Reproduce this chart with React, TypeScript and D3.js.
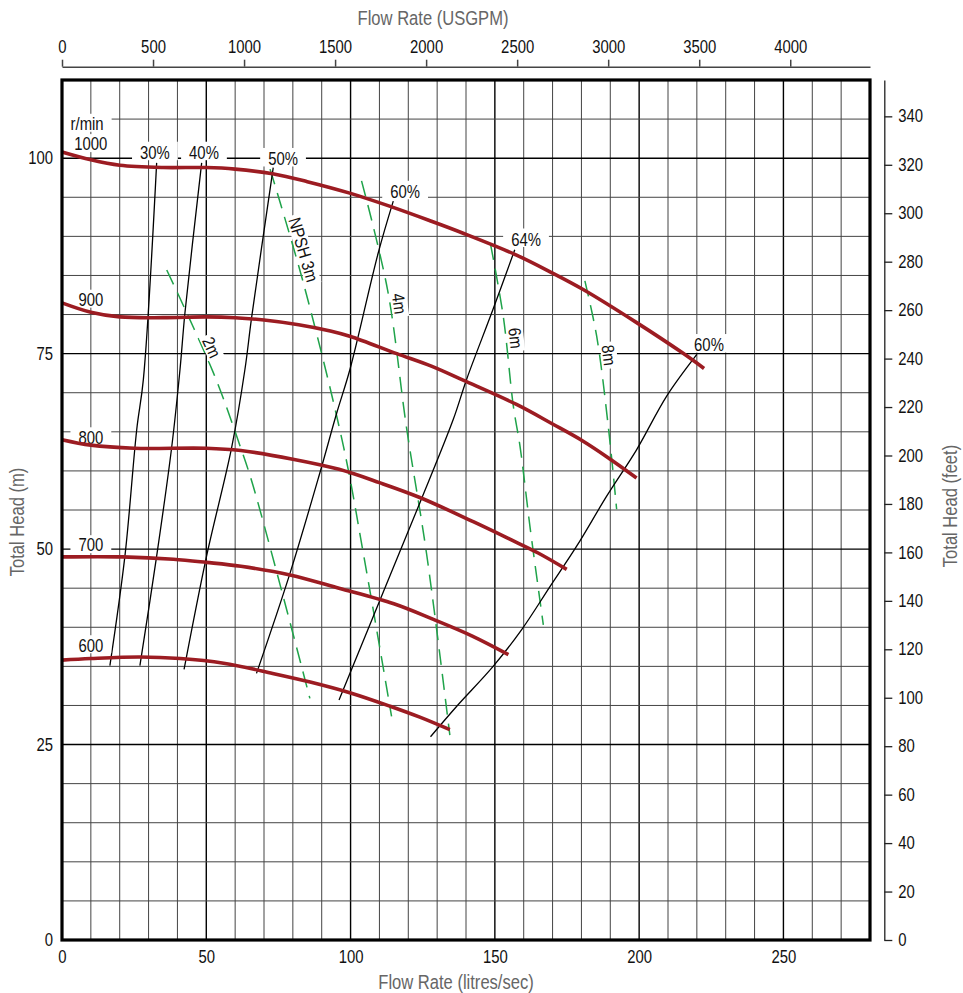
import React, { useEffect, useRef } from "react";
import * as d3 from "d3";

type Pt = [number, number];

const W = 963;
const H = 993;
const FLOW_MAX = 280; // l/s at the right edge of the grid
const HEAD_MAX = 110; // m at the top edge of the grid
const FEET_TOP = 355; // feet value at the top edge, as printed on the right axis
const LPS_TO_USGPM = 15.850323;

const FLOW_TICKS = [0, 50, 100, 150, 200, 250];
const HEAD_TICKS = [0, 25, 50, 75, 100];
const USGPM_TICKS = [0, 500, 1000, 1500, 2000, 2500, 3000, 3500, 4000];
const FEET_TICKS = [0, 20, 40, 60, 80, 100, 120, 140, 160, 180, 200, 220, 240, 260, 280, 300, 320, 340];

// Head / flow curves per speed (flow l/s, head m)
const SPEEDS = ["1000", "900", "800", "700", "600"];
const H1000: Pt[] = [[0, 100.8], [10, 99.8], [20, 99.1], [35, 98.8], [50, 98.8], [60, 98.6], [73, 98.0], [85, 97.0], [100, 95.5], [114, 93.8], [127.5, 92.0], [139, 90.4], [157.5, 87.6], [170, 85.3], [180.6, 83.2], [199, 79.0], [215, 75.1], [222.5, 73.1]];
const H900: Pt[] = [[0, 81.5], [10, 80.3], [20, 79.7], [35, 79.6], [50, 79.7], [60, 79.6], [70, 79.3], [82, 78.7], [93, 77.9], [100, 77.2], [116, 75.0], [128, 73.4], [139, 71.6], [157.5, 68.5], [170, 66.0], [180.6, 63.8], [190, 61.5], [199.1, 59.1]];
const H800: Pt[] = [[0, 64.0], [10, 63.3], [25, 62.9], [50, 62.9], [62, 62.6], [80, 61.5], [96, 60.2], [110, 58.5], [124, 56.6], [142.5, 53.5], [155, 51.3], [165, 49.5], [174.9, 47.4]];
const H700: Pt[] = [[0, 49.0], [21, 49.0], [38.6, 48.7], [50, 48.3], [62, 47.8], [79, 46.7], [96, 45.0], [115, 43.0], [128.7, 41.0], [142, 38.9], [154.7, 36.5]];
const H600: Pt[] = [[0, 35.8], [10, 36.0], [27, 36.2], [41, 36.0], [56, 35.4], [73, 34.1], [86, 33.0], [100, 31.6], [113.7, 29.9], [124, 28.5], [134.4, 26.9]];
const SPEED_LABEL_Q = [10, 10, 10, 10, 10];
const SPEED_LABEL_H = [101.8, 81.9, 64.3, 50.5, 37.7];

// Efficiency iso-lines
const EFF_LABELS = ["30%", "40%", "50%", "60%", "64%", "60%"];
const E30: Pt[] = [[32.8, 99.4], [28.2, 71.7], [25.9, 65.3], [21.8, 49.1], [16.6, 35.1]];
const E40: Pt[] = [[48.4, 99.4], [42.6, 80.2], [40.9, 73.0], [38.0, 63.0], [32.8, 49.1], [27.0, 35.1]];
const E50: Pt[] = [[73.2, 98.8], [65.7, 79.6], [63.4, 73.0], [58.8, 63.0], [50.1, 49.1], [42.3, 34.6]];
const E60A: Pt[] = [[114.8, 94.5], [109.6, 87.9], [99.8, 73.0], [95.2, 67.4], [89.4, 59.8], [79.0, 46.9], [67.4, 34.1]];
const E64: Pt[] = [[156.9, 88.3], [149.4, 80.7], [140.2, 71.7], [135.6, 66.6], [124.0, 55.9], [110.2, 43.5], [96.0, 30.7]];
const E60B: Pt[] = [[220.0, 74.9], [209.6, 69.6], [199.1, 62.7], [188.8, 56.8], [178.4, 50.4], [169.1, 45.2], [159.3, 39.7], [149.4, 35.0], [136.8, 29.9], [127.7, 26.0]];
const EFF_LABEL_Q = [32.2, 49.2, 76.6, 118.9, 160.8, 224.2];
const EFF_LABEL_H = [100.7, 100.7, 99.9, 95.7, 89.6, 76.1];

// NPSH required iso-lines
const NPSH_LABELS = ["2m", "NPSH 3m", "4m", "6m", "8m"];
const N2: Pt[] = [[36.3, 85.7], [52.4, 72.6], [61.7, 63.2], [66.3, 58.0], [85.9, 30.9]];
const N3: Pt[] = [[72.1, 98.6], [83.6, 84.1], [97.5, 63.2], [104.4, 49.5], [114.2, 28.6]];
const N4: Pt[] = [[103.8, 97.1], [112.8, 83.2], [119.4, 65.5], [126.3, 49.5], [134.4, 26.2]];
const N6: Pt[] = [[148.5, 89.0], [152.9, 79.8], [156.4, 68.3], [158.7, 63.2], [162.3, 52.5], [166.8, 40.3]];
const N8: Pt[] = [[181.2, 84.3], [185.3, 77.2], [189.3, 65.7], [192.2, 55.1]];
const NPSH_LABEL_H = [75.8, 88.3, 81.4, 77.0, 74.8];

const FONT = "'Liberation Sans',Arial,Helvetica,sans-serif";
const SQ = 0.85; // horizontal squeeze to imitate a condensed face
const FS = 17.5;
const RED = "#9c1c22";
const GREEN = "#1fa34a";
const GREY_TITLE = "#666666";

export default function App() {
  const ref = useRef<SVGSVGElement>(null);

  useEffect(() => {
    const svg = d3.select(ref.current as SVGSVGElement);
    svg.selectAll("*").remove();

    const m = { left: 62, right: 870, top: 80, bottom: 940 };
    const x = d3.scaleLinear().domain([0, FLOW_MAX]).range([m.left, m.right]);
    const y = d3.scaleLinear().domain([0, HEAD_MAX]).range([m.bottom, m.top]);
    const xg = d3.scaleLinear().domain([0, FLOW_MAX * LPS_TO_USGPM]).range([m.left, m.right]);
    const yf = d3.scaleLinear().domain([0, FEET_TOP]).range([m.bottom, m.top]);

    svg.append("rect").attr("width", W).attr("height", H).attr("fill", "#fff");

    // grid
    const grid = svg.append("g");
    const vLines = d3.range(10, FLOW_MAX, 10);
    grid.selectAll("line.v").data(vLines).enter().append("line")
      .attr("x1", (d) => x(d)).attr("x2", (d) => x(d))
      .attr("y1", m.top).attr("y2", m.bottom)
      .attr("stroke", (d) => (d % 50 === 0 ? "#000" : "#444"))
      .attr("stroke-width", (d) => (d % 50 === 0 ? 1.4 : 1));
    const hLines = d3.range(5, HEAD_MAX, 5);
    grid.selectAll("line.h").data(hLines).enter().append("line")
      .attr("y1", (d) => y(d)).attr("y2", (d) => y(d))
      .attr("x1", m.left).attr("x2", m.right)
      .attr("stroke", (d) => (d % 25 === 0 ? "#000" : "#444"))
      .attr("stroke-width", (d) => (d % 25 === 0 ? 1.4 : 1));

    const line = d3.line<Pt>().x((d) => x(d[0])).y((d) => y(d[1])).curve(d3.curveCatmullRom.alpha(0.5));

    // NPSH dashed lines
    const npsh = [N2, N3, N4, N6, N8];
    svg.append("g").selectAll("path").data(npsh).enter().append("path")
      .attr("d", (d) => line(d) as string)
      .attr("fill", "none").attr("stroke", GREEN).attr("stroke-width", 1.5)
      .attr("stroke-dasharray", "16 9");

    // efficiency lines
    const eff = [E30, E40, E50, E60A, E64, E60B];
    svg.append("g").selectAll("path").data(eff).enter().append("path")
      .attr("d", (d) => line(d) as string)
      .attr("fill", "none").attr("stroke", "#000").attr("stroke-width", 1.3);

    // labels with white boxes
    const labels = svg.append("g").attr("font-family", FONT).attr("font-size", FS).attr("fill", "#111");
    const boxed = (text: string, cx: number, cy: number, angle: number, padX: number, top: number, bottom: number) => {
      const g = labels.append("g").attr("transform", `translate(${cx},${cy}) rotate(${angle})`);
      const r = g.append("rect").attr("fill", "#fff");
      const t = g.append("text").attr("text-anchor", "middle").attr("dy", "0.36em")
        .attr("transform", `scale(${SQ},1)`).text(text);
      const bb = (t.node() as SVGTextElement).getBBox();
      const w = bb.width * SQ + 2 * padX;
      r.attr("x", -w / 2).attr("y", -top).attr("width", w).attr("height", top + bottom);
    };

    SPEEDS.forEach((s, i) => boxed(s, x(SPEED_LABEL_Q[i]), y(SPEED_LABEL_H[i]), 0, 8, 10, 8));
    boxed("r/min", x(8.7), y(104.4), 0, 8, 10, 8);

    EFF_LABELS.forEach((s, i) => boxed(s, x(EFF_LABEL_Q[i]), y(EFF_LABEL_H[i]), 0, 8, 11, 7.5));

    npsh.forEach((pts, i) => {
      const hv = NPSH_LABEL_H[i];
      let k = 0;
      while (k < pts.length - 2 && pts[k + 1][1] > hv) k++;
      const a = pts[k], b = pts[k + 1];
      const t = (a[1] - hv) / (a[1] - b[1]);
      const q = a[0] + t * (b[0] - a[0]);
      const ang = (Math.atan2(y(b[1]) - y(a[1]), x(b[0]) - x(a[0])) * 180) / Math.PI;
      boxed(NPSH_LABELS[i], x(q) + 10, y(hv), ang, 3, 8, 8);
    });

    // head curves (on top)
    const heads = [H1000, H900, H800, H700, H600];
    svg.append("g").selectAll("path").data(heads).enter().append("path")
      .attr("d", (d) => line(d) as string)
      .attr("fill", "none").attr("stroke", RED).attr("stroke-width", 3.6)
      .attr("stroke-linecap", "butt");

    // plot border
    svg.append("rect").attr("x", m.left).attr("y", m.top)
      .attr("width", m.right - m.left).attr("height", m.bottom - m.top)
      .attr("fill", "none").attr("stroke", "#000").attr("stroke-width", 3.2);

    const styleAxis = (g: d3.Selection<SVGGElement, unknown, null, undefined>) => {
      g.attr("font-family", FONT).attr("font-size", FS);
      g.selectAll<SVGTextElement, unknown>("text").each(function () {
        const t = d3.select(this);
        const xv = +(t.attr("x") || 0);
        t.attr("fill", "#111").attr("x", xv / SQ).attr("transform", `scale(${SQ},1)`);
      });
    };

    // left axis (m)
    const gl = svg.append("g").attr("transform", `translate(${m.left},0)`)
      .call(d3.axisLeft(y).tickValues(HEAD_TICKS).tickSize(0).tickPadding(9).tickFormat(d3.format("d")));
    gl.select(".domain").remove();
    styleAxis(gl);

    // bottom axis (l/s)
    const gb = svg.append("g").attr("transform", `translate(0,${m.bottom})`)
      .call(d3.axisBottom(x).tickValues(FLOW_TICKS).tickSize(0).tickPadding(11).tickFormat(d3.format("d")));
    gb.select(".domain").remove();
    styleAxis(gb);

    // top axis (USGPM)
    const gt = svg.append("g").attr("transform", `translate(0,66.7)`)
      .call(d3.axisTop(xg).tickValues(USGPM_TICKS).tickSize(7).tickSizeOuter(0).tickPadding(7).tickFormat(d3.format("d")));
    gt.selectAll(".domain, line").attr("stroke", "#444").attr("stroke-width", 1.5);
    styleAxis(gt);

    // right axis (feet)
    const gr = svg.append("g").attr("transform", `translate(884.3,0)`)
      .call(d3.axisRight(yf).tickValues(FEET_TICKS).tickSize(8).tickSizeOuter(0).tickPadding(6).tickFormat(d3.format("d")));
    gr.selectAll(".domain, line").attr("stroke", "#222").attr("stroke-width", 1.3);
    styleAxis(gr);

    // axis titles
    const titles = svg.append("g").attr("font-family", FONT).attr("font-size", 19.5).attr("fill", GREY_TITLE).attr("text-anchor", "middle");
    titles.append("text").attr("transform", `translate(433,25) scale(${SQ},1)`).text("Flow Rate (USGPM)");
    titles.append("text").attr("transform", `translate(456,989) scale(${SQ},1)`).text("Flow Rate (litres/sec)");
    titles.append("text").attr("transform", `translate(17,522) rotate(-90) scale(${SQ},1)`).attr("dy", "0.36em").text("Total Head (m)");
    titles.append("text").attr("transform", `translate(950,506) rotate(-90) scale(${SQ},1)`).attr("dy", "0.36em").text("Total Head (feet)");
  }, []);

  return (
    <svg
      ref={ref}
      width={W}
      height={H}
      style={{ position: "absolute", left: 0, top: 0, display: "block" }}
    />
  );
}
